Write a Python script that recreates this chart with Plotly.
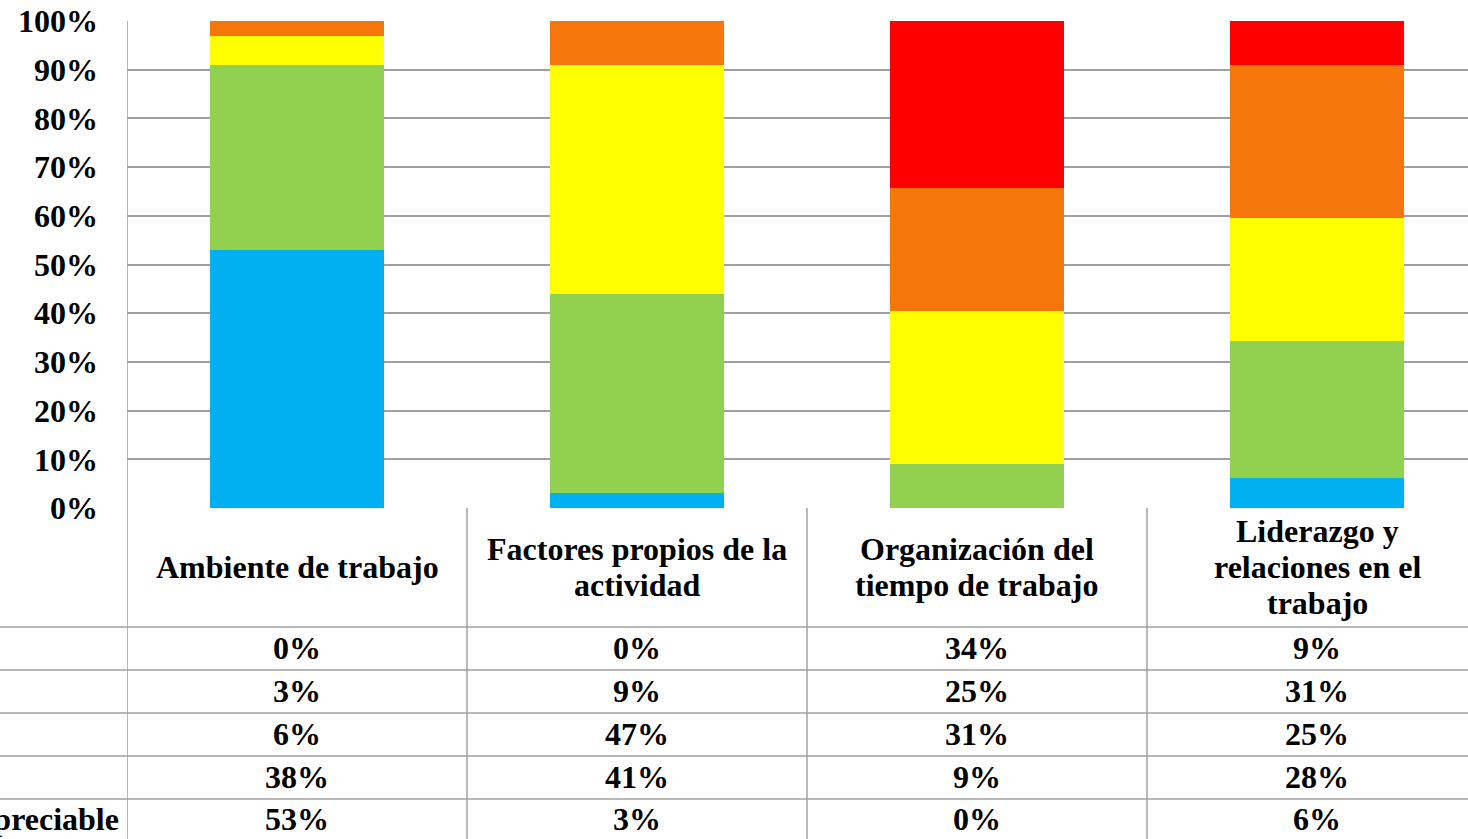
import plotly.graph_objects as go

# Data (percent of workers per risk level)
categories = [
    "Ambiente de trabajo",
    "Factores propios de la actividad",
    "Organización del tiempo de trabajo",
    "Liderazgo y relaciones en el trabajo",
]
header_lines = [
    ["Ambiente de trabajo"],
    ["Factores propios de la", "actividad"],
    ["Organización del", "tiempo de trabajo"],
    ["Liderazgo y", "relaciones en el", "trabajo"],
]
levels = ["Muy alto", "Alto", "Medio", "Bajo", "Riesgo inapreciable"]
muy_alto = [0, 0, 34, 9]
alto = [3, 9, 25, 31]
medio = [6, 47, 31, 25]
bajo = [38, 41, 9, 28]
inapreciable = [53, 3, 0, 6]
tick_vals = [0, 10, 20, 30, 40, 50, 60, 70, 80, 90, 100]
tick_text = [f"{v}%" for v in tick_vals]

series = [inapreciable, bajo, medio, alto, muy_alto]  # stacking order, bottom first
colors = ["#00B0F0", "#92D050", "#FFFF00", "#F5770C", "#FF0000"]
table_rows = [muy_alto, alto, medio, bajo, inapreciable]

W, H = 1468, 839
ML, MT, MB = 127, 21, 331
PW, PH = W - ML, H - MT - MB
GRID = "#A0A0A0"
FONT = dict(family="Liberation Serif, Times New Roman, serif", size=32, color="black", weight="bold")
LINE_H = 36


def py(p):
    """Pixel row -> paper y."""
    return (H - MB - p) / PH


def px(p):
    """Pixel column -> paper x."""
    return (p - ML) / PW


xs = list(range(len(categories)))
fig = go.Figure()
for vals, col, name in zip(series, colors, levels[::-1]):
    fig.add_trace(go.Bar(x=xs, y=vals, name=name, marker=dict(color=col, line_width=0), width=0.51))

shapes = []
# table horizontal rules
for p in [627, 670, 713, 756, 799]:
    shapes.append(dict(type="line", xref="paper", yref="paper", x0=px(0), x1=1, y0=py(p), y1=py(p),
                       line=dict(color=GRID, width=1.5)))
# table vertical rules (the first one doubles as the value axis line)
for xv in [-0.5, 0.5, 1.5, 2.5]:
    shapes.append(dict(type="line", xref="x", yref="paper", x0=xv, x1=xv,
                       y0=1 if xv < 0 else 0, y1=py(H + 5), line=dict(color=GRID, width=1.5)))

ann = []
for i, lines in enumerate(header_lines):
    top = 567 - LINE_H * (len(lines) - 1) / 2
    for k, line in enumerate(lines):
        ann.append(dict(x=i, y=py(top + k * LINE_H), xref="x", yref="paper", text=line,
                        showarrow=False, font=FONT, xanchor="center", yanchor="middle"))
row_centers = [648, 691, 734, 777, 819]
for r, vals in enumerate(table_rows):
    for i, v in enumerate(vals):
        ann.append(dict(x=i, y=py(row_centers[r]), xref="x", yref="paper", text=f"{v}%",
                        showarrow=False, font=FONT, xanchor="center", yanchor="middle"))
# only the last row header reaches into view in the reference
ann.append(dict(x=px(-150), y=py(row_centers[-1]), xref="paper", yref="paper", text=levels[-1],
                showarrow=False, font=FONT, xanchor="left", yanchor="middle"))

fig.update_layout(
    barmode="stack",
    barnorm="percent",
    width=W,
    height=H,
    margin=dict(l=ML, r=0, t=MT, b=MB, pad=0),
    plot_bgcolor="white",
    paper_bgcolor="white",
    showlegend=False,
    shapes=shapes,
    annotations=ann,
)
fig.update_xaxes(range=[-0.5, -0.5 + PW / 340], showticklabels=False, showgrid=False,
                 zeroline=False, showline=False)
fig.update_yaxes(range=[0, 100], tickvals=tick_vals, ticktext=tick_text, showgrid=True,
                 gridcolor=GRID, gridwidth=1.5, zeroline=False, showline=False,
                 tickfont=FONT, ticklabelstandoff=28)

fig.write_html("out.html", config={"displayModeBar": False},
               post_script="document.body.style.margin='0';")
